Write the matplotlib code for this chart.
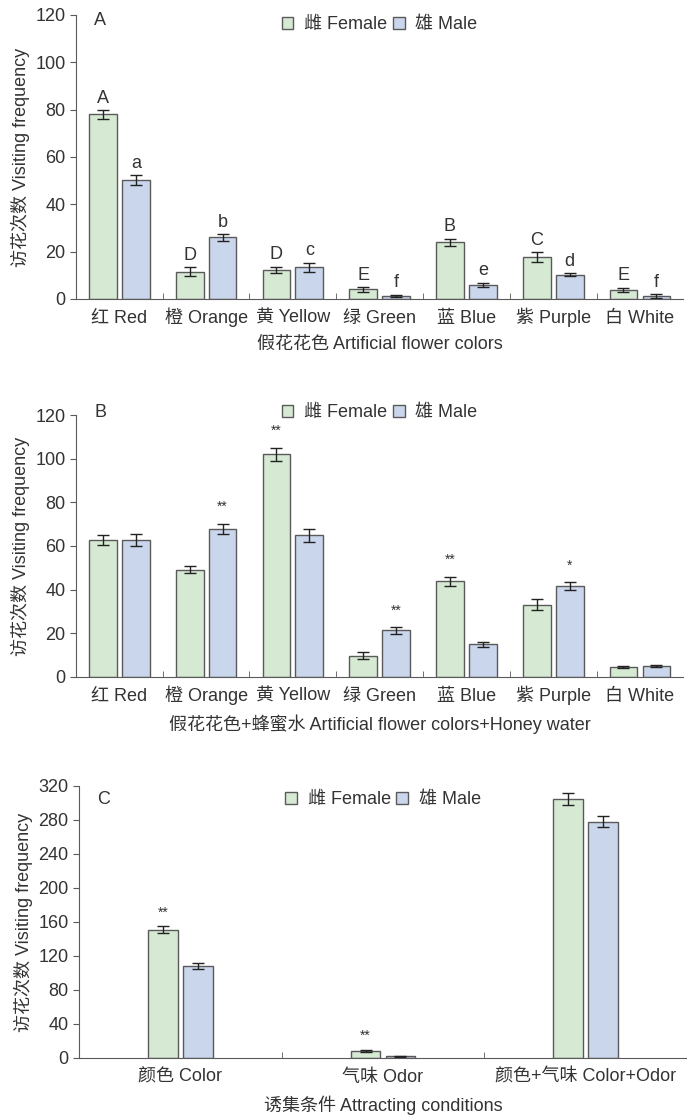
import matplotlib.pyplot as plt
import numpy as np

plt.rcParams['font.family'] = ['Liberation Sans', 'Noto Sans CJK SC']

# A: artificial flower colours
cats_ab = ['红 Red', '橙 Orange', '黄 Yellow', '绿 Green', '蓝 Blue', '紫 Purple', '白 White']
a_female = [78.0, 11.5, 12.3, 4.0, 24.0, 17.7, 3.8]
a_female_err = [1.8, 1.9, 1.2, 0.9, 1.5, 2.0, 1.0]
a_male = [50.3, 26.0, 13.3, 1.4, 6.0, 10.3, 1.2]
a_male_err = [2.0, 1.3, 2.0, 0.4, 0.9, 0.5, 0.8]
a_female_lab = ['A', 'D', 'D', 'E', 'B', 'C', 'E']
a_male_lab = ['a', 'b', 'c', 'f', 'e', 'd', 'f']

# B: artificial flower colours + honey water
b_female = [62.7, 49.0, 102.0, 9.8, 43.8, 33.0, 4.7]
b_female_err = [2.3, 1.6, 3.0, 1.8, 2.0, 2.5, 0.5]
b_male = [62.7, 67.8, 64.8, 21.3, 15.0, 41.5, 5.0]
b_male_err = [2.9, 2.3, 3.2, 1.4, 1.1, 1.8, 0.5]
b_female_lab = ['', '', '**', '', '**', '', '']
b_male_lab = ['', '**', '', '**', '', '*', '']

# C: attracting conditions
cats_c = ['颜色 Color', '气味 Odor', '颜色+气味 Color+Odor']
c_female = [151.0, 8.0, 305.0]
c_female_err = [4.0, 1.5, 7.0]
c_male = [108.0, 2.0, 278.0]
c_male_err = [3.5, 0.5, 6.5]
c_female_lab = ['**', '**', '']
c_male_lab = ['', '', '']

GREEN = '#d6e9d3'
BLUE = '#c9d6ec'
EDGE = '#5a5a5a'
TXT = '#333333'
FS = 13


def panel(ax, cats, fem, fem_e, mal, mal_e, flab, mlab, width, off, ymax, step,
          letter, xlabel, leg_y, let_y, lab_size, lab_gap):
    x = np.arange(len(cats))
    ax.bar(x - off, fem, width, color=GREEN, edgecolor=EDGE, linewidth=1, label='雌 Female')
    ax.bar(x + off, mal, width, color=BLUE, edgecolor=EDGE, linewidth=1, label='雄 Male')
    ax.errorbar(x - off, fem, yerr=fem_e, fmt='none', ecolor='#222222', elinewidth=1, capsize=4, capthick=1)
    ax.errorbar(x + off, mal, yerr=mal_e, fmt='none', ecolor='#222222', elinewidth=1, capsize=4, capthick=1)
    for xi, v, e, t in zip(x - off, fem, fem_e, flab):
        if t:
            ax.text(xi, v + e + lab_gap, t, ha='center', va='bottom', fontsize=lab_size, color=TXT)
    for xi, v, e, t in zip(x + off, mal, mal_e, mlab):
        if t:
            ax.text(xi, v + e + lab_gap, t, ha='center', va='bottom', fontsize=lab_size, color=TXT)
    ax.set_xlim(-0.5, len(cats) - 0.5)
    ax.set_ylim(0, ymax)
    ax.set_yticks(np.arange(0, ymax + 1, step))
    ax.set_xticks(x)
    ax.set_xticklabels(cats)
    for lbl in ax.get_xticklabels():
        lbl.set_va('baseline')
    ax.set_xticks(np.arange(0.5, len(cats) - 0.5, 1), minor=True)
    ax.tick_params(axis='x', which='major', length=0, pad=17, labelsize=FS, labelcolor=TXT)
    ax.tick_params(axis='x', which='minor', direction='in', length=4, color=EDGE)
    ax.tick_params(axis='y', direction='out', length=4, labelsize=FS, labelcolor=TXT, color=EDGE)
    for s in ['top', 'right']:
        ax.spines[s].set_visible(False)
    for s in ['left', 'bottom']:
        ax.spines[s].set_color(EDGE)
    ax.set_xlabel(xlabel, fontsize=FS, color=TXT, labelpad=7)
    ax.set_ylabel('访花次数 Visiting frequency', fontsize=FS, color=TXT, labelpad=4)
    ax.text(0.03, let_y, letter, transform=ax.transAxes, fontsize=FS, color=TXT, va='center')
    ax.legend(loc='center', bbox_to_anchor=(0.5, leg_y), ncol=2, frameon=False,
              handlelength=0.65, handleheight=0.65, columnspacing=0.3, handletextpad=0.6,
              fontsize=FS, labelcolor=TXT)


fig = plt.figure(figsize=(6.87, 11.18), dpi=100)
axA = fig.add_axes([0.1106, 0.7326, 0.884, 0.254])
axB = fig.add_axes([0.1106, 0.3945, 0.884, 0.2343])
axC = fig.add_axes([0.115, 0.0537, 0.885, 0.2433])

panel(axA, cats_ab, a_female, a_female_err, a_male, a_male_err, a_female_lab, a_male_lab,
      0.32, 0.19, 120, 20, 'A', '假花花色 Artificial flower colors', 0.965, 0.98, 13, 1.5)
panel(axB, cats_ab, b_female, b_female_err, b_male, b_male_err, b_female_lab, b_male_lab,
      0.32, 0.19, 120, 20, 'B', '假花花色+蜂蜜水 Artificial flower colors+Honey water', 1.01, 1.01, 10, 4.5)
panel(axC, cats_c, c_female, c_female_err, c_male, c_male_err, c_female_lab, c_male_lab,
      0.146, 0.086, 320, 40, 'C', '诱集条件 Attracting conditions', 0.95, 0.95, 10, 8.0)

fig.savefig('out.png', dpi=100)
